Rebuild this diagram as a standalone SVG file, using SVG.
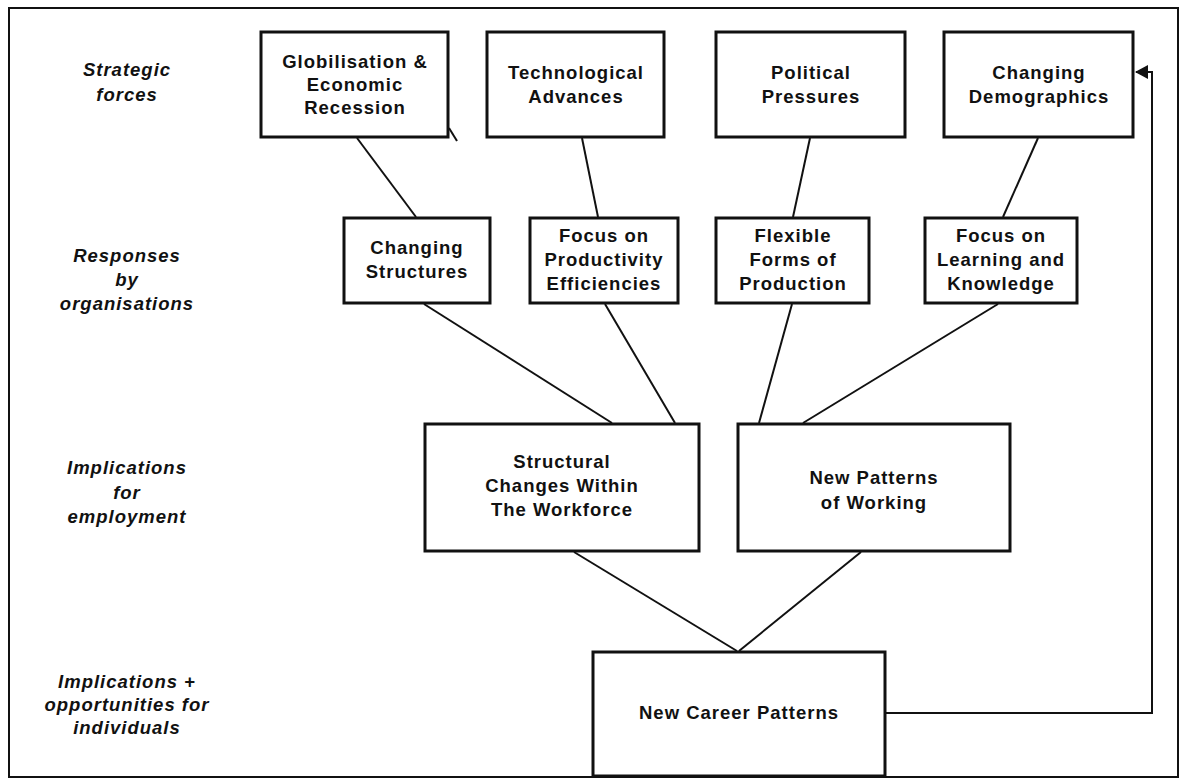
<svg xmlns="http://www.w3.org/2000/svg" width="1185" height="782" viewBox="0 0 1185 782">
<defs>
<style>
.box{fill:#fff;stroke:#111;stroke-width:3}
.t{font-family:"Liberation Sans",Arial,sans-serif;font-weight:bold;font-size:18.5px;letter-spacing:1px;fill:#111;text-anchor:middle}
.lab{font-family:"Liberation Sans",Arial,sans-serif;font-weight:bold;font-style:italic;font-size:18.5px;letter-spacing:1px;fill:#111;text-anchor:middle}
.c{stroke:#111;stroke-width:2;fill:none}
</style>
<marker id="arr" markerWidth="14" markerHeight="14" refX="12" refY="7" orient="auto" markerUnits="userSpaceOnUse">
<path d="M0,0 L13,7 L0,14 z" fill="#111"/>
</marker>
</defs>
<rect x="0" y="0" width="1185" height="782" fill="#fff"/>
<rect id="frame" x="9" y="8" width="1169" height="769" fill="none" stroke="#111" stroke-width="2"/>

<g id="labels">
<text class="lab" x="127" y="76">Strategic</text>
<text class="lab" x="127" y="101">forces</text>
<text class="lab" x="127" y="262">Responses</text>
<text class="lab" x="127" y="286">by</text>
<text class="lab" x="127" y="310">organisations</text>
<text class="lab" x="127" y="474">Implications</text>
<text class="lab" x="127" y="499">for</text>
<text class="lab" x="127" y="523">employment</text>
<text class="lab" x="127" y="688">Implications +</text>
<text class="lab" x="127" y="711">opportunities for</text>
<text class="lab" x="127" y="734">individuals</text>
</g>

<g id="connectors">
<line class="c" x1="357" y1="138" x2="416" y2="217"/>
<line class="c" x1="449" y1="128" x2="457" y2="141"/>
<line class="c" x1="582" y1="138" x2="598" y2="217"/>
<line class="c" x1="810" y1="138" x2="793" y2="217"/>
<line class="c" x1="1038" y1="138" x2="1003" y2="217"/>
<line class="c" x1="424" y1="304" x2="612" y2="423"/>
<line class="c" x1="605" y1="304" x2="675" y2="423"/>
<line class="c" x1="792" y1="304" x2="759" y2="423"/>
<line class="c" x1="998" y1="304" x2="803" y2="423"/>
<line class="c" x1="574" y1="552" x2="737" y2="651"/>
<line class="c" x1="861" y1="552" x2="739" y2="651"/>
<polyline class="c" stroke-width="2.5" points="886,713 1152,713 1152,72 1136,72" marker-end="url(#arr)"/>
</g>

<g id="n1"><rect class="box" x="261" y="32" width="187" height="105"/>
<text class="t" x="355" y="68">Globilisation &amp;</text><text class="t" x="355" y="91">Economic</text><text class="t" x="355" y="114">Recession</text></g>
<g id="n2"><rect class="box" x="487" y="32" width="177" height="105"/>
<text class="t" x="576" y="79">Technological</text><text class="t" x="576" y="103">Advances</text></g>
<g id="n3"><rect class="box" x="716" y="32" width="189" height="105"/>
<text class="t" x="811" y="79">Political</text><text class="t" x="811" y="103">Pressures</text></g>
<g id="n4"><rect class="box" x="944" y="32" width="189" height="105"/>
<text class="t" x="1039" y="79">Changing</text><text class="t" x="1039" y="103">Demographics</text></g>

<g id="n5"><rect class="box" x="344" y="218" width="146" height="85"/>
<text class="t" x="417" y="254">Changing</text><text class="t" x="417" y="278">Structures</text></g>
<g id="n6"><rect class="box" x="530" y="218" width="148" height="85"/>
<text class="t" x="604" y="242">Focus on</text><text class="t" x="604" y="266">Productivity</text><text class="t" x="604" y="290">Efficiencies</text></g>
<g id="n7"><rect class="box" x="716" y="218" width="153" height="85"/>
<text class="t" x="793" y="242">Flexible</text><text class="t" x="793" y="266">Forms of</text><text class="t" x="793" y="290">Production</text></g>
<g id="n8"><rect class="box" x="925" y="218" width="152" height="85"/>
<text class="t" x="1001" y="242">Focus on</text><text class="t" x="1001" y="266">Learning and</text><text class="t" x="1001" y="290">Knowledge</text></g>

<g id="n9"><rect class="box" x="425" y="424" width="274" height="127"/>
<text class="t" x="562" y="468">Structural</text><text class="t" x="562" y="492">Changes Within</text><text class="t" x="562" y="516">The Workforce</text></g>
<g id="n10"><rect class="box" x="738" y="424" width="272" height="127"/>
<text class="t" x="874" y="484">New Patterns</text><text class="t" x="874" y="509">of Working</text></g>

<g id="n11"><rect class="box" x="593" y="652" width="292" height="124"/>
<text class="t" x="739" y="719">New Career Patterns</text></g>
</svg>
